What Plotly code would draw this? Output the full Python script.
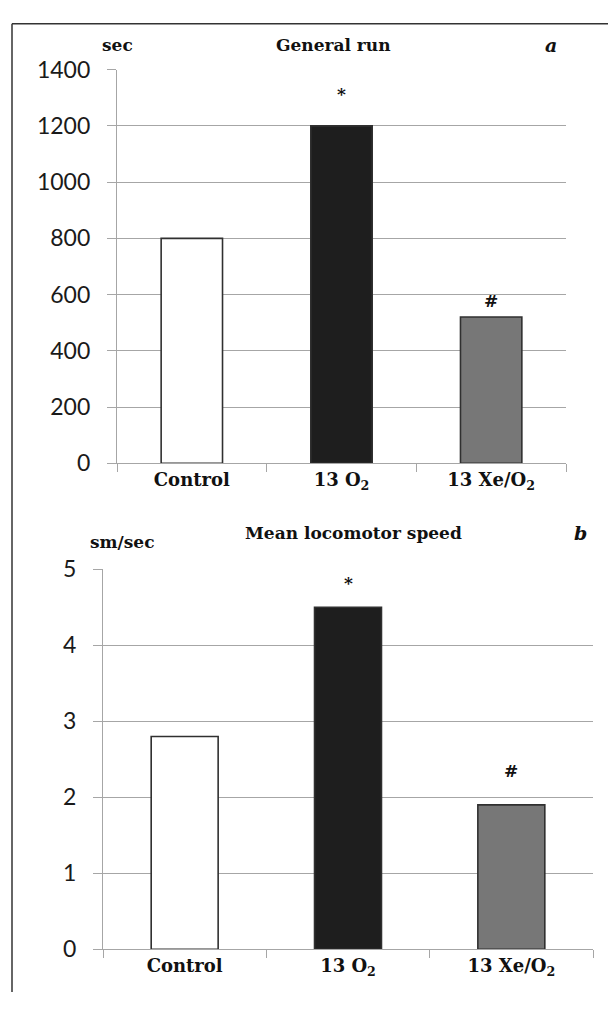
import plotly.graph_objects as go

categories = ["Control", "13 O<sub>2</sub>", "13 Xe/O<sub>2</sub>"]
run_values = [800, 1200, 520]          # sec
speed_values = [2.8, 4.5, 1.9]         # sm/sec
marks = ["", "*", "#"]
run_ticks = [0, 200, 400, 600, 800, 1000, 1200, 1400]
speed_ticks = [0, 1, 2, 3, 4, 5]

# page body has an 8px margin: figure is drawn at (8, 8) in the window
OFF = 8
W, H = 616 - OFF, 1013 - 2 * OFF
fill_colors = ["#ffffff", "#1e1e1e", "#777777"]
grid_col = "#a6a6a6"
serif = "DejaVu Serif"
sans = "Lato"


def px_x(v):
    return (v - OFF) / W


def px_y(v):
    return 1 - (v - OFF) / H


fig = go.Figure()
fig.add_trace(go.Bar(x=categories, y=run_values, xaxis="x", yaxis="y",
                     marker=dict(color=fill_colors, line=dict(color="#303030", width=1.6)),
                     showlegend=False, hoverinfo="skip"))
fig.add_trace(go.Bar(x=categories, y=speed_values, xaxis="x2", yaxis="y2",
                     marker=dict(color=fill_colors, line=dict(color="#303030", width=1.6)),
                     showlegend=False, hoverinfo="skip"))

xa_common = dict(type="category", showline=True, linecolor=grid_col, linewidth=1.3,
                 ticks="outside", tickson="boundaries", ticklen=8, tickcolor=grid_col,
                 tickwidth=1.3, showgrid=False, zeroline=False,
                 tickprefix="<b>", ticksuffix="</b>",
                 tickfont=dict(family=serif, size=18, color="#111111"))
ya_common = dict(showline=True, linecolor=grid_col, linewidth=1.3, ticks="outside",
                 ticklen=9, tickcolor=grid_col, tickwidth=1.3, showgrid=True,
                 gridcolor=grid_col, gridwidth=1.3, zeroline=False,
                 tickfont=dict(family=sans, size=23, color="#1a1a1a"),
                 ticklabelstandoff=12)

fig.update_layout(
    width=W, height=H, margin=dict(l=0, r=0, t=0, b=0),
    paper_bgcolor="white", plot_bgcolor="white", bargap=0.59,
    xaxis=dict(domain=[px_x(117), px_x(566)], anchor="y", **xa_common),
    yaxis=dict(domain=[px_y(461), px_y(56)], anchor="x", range=[0, 1400],
               tickvals=run_ticks, **ya_common),
    xaxis2=dict(domain=[px_x(103), px_x(593)], anchor="y2", **xa_common),
    yaxis2=dict(domain=[px_y(961), px_y(570)], anchor="x2", range=[0, 5],
                tickvals=speed_ticks, **ya_common),
)

# significance marks
shifts_a = [0, 20, 4]
shifts_b = [0, 12, 22]
for c, v, m, s in zip(categories, run_values, marks, shifts_a):
    if m:
        fig.add_annotation(x=c, y=v, xref="x", yref="y", text=f"<b>{m}</b>", showarrow=False,
                           yanchor="bottom", yshift=s,
                           font=dict(family=serif, size=17, color="#111111"))
for c, v, m, s in zip(categories, speed_values, marks, shifts_b):
    if m:
        fig.add_annotation(x=c, y=v, xref="x2", yref="y2", text=f"<b>{m}</b>", showarrow=False,
                           yanchor="bottom", yshift=s,
                           font=dict(family=serif, size=17, color="#111111"))


def label(text, x, y, size=17, italic=False, anchor="center"):
    fig.add_annotation(x=px_x(x), y=px_y(y), xref="paper", yref="paper",
                       text=f"<b><i>{text}</i></b>" if italic else f"<b>{text}</b>",
                       showarrow=False, xanchor=anchor, yanchor="middle",
                       font=dict(family=serif, size=size, color="#111111"))


label("sec", 100, 31, 17, anchor="left")
label("General run", 333, 31, 17)
label("a", 551, 31, 19, italic=True)
label("sm/sec", 88, 542, 17, anchor="left")
label("Mean locomotor speed", 353, 533, 17)
label("b", 580, 533, 19, italic=True)

# outer frame (top and left edges)
fig.add_shape(type="line", xref="paper", yref="paper", x0=px_x(12), x1=1,
              y0=px_y(8.8), y1=px_y(8.8), line=dict(color="#333333", width=1.5))
fig.add_shape(type="line", xref="paper", yref="paper", x0=px_x(12), x1=px_x(12),
              y0=px_y(8.8), y1=0, line=dict(color="#333333", width=1.5))

fig.write_html("out.html")
